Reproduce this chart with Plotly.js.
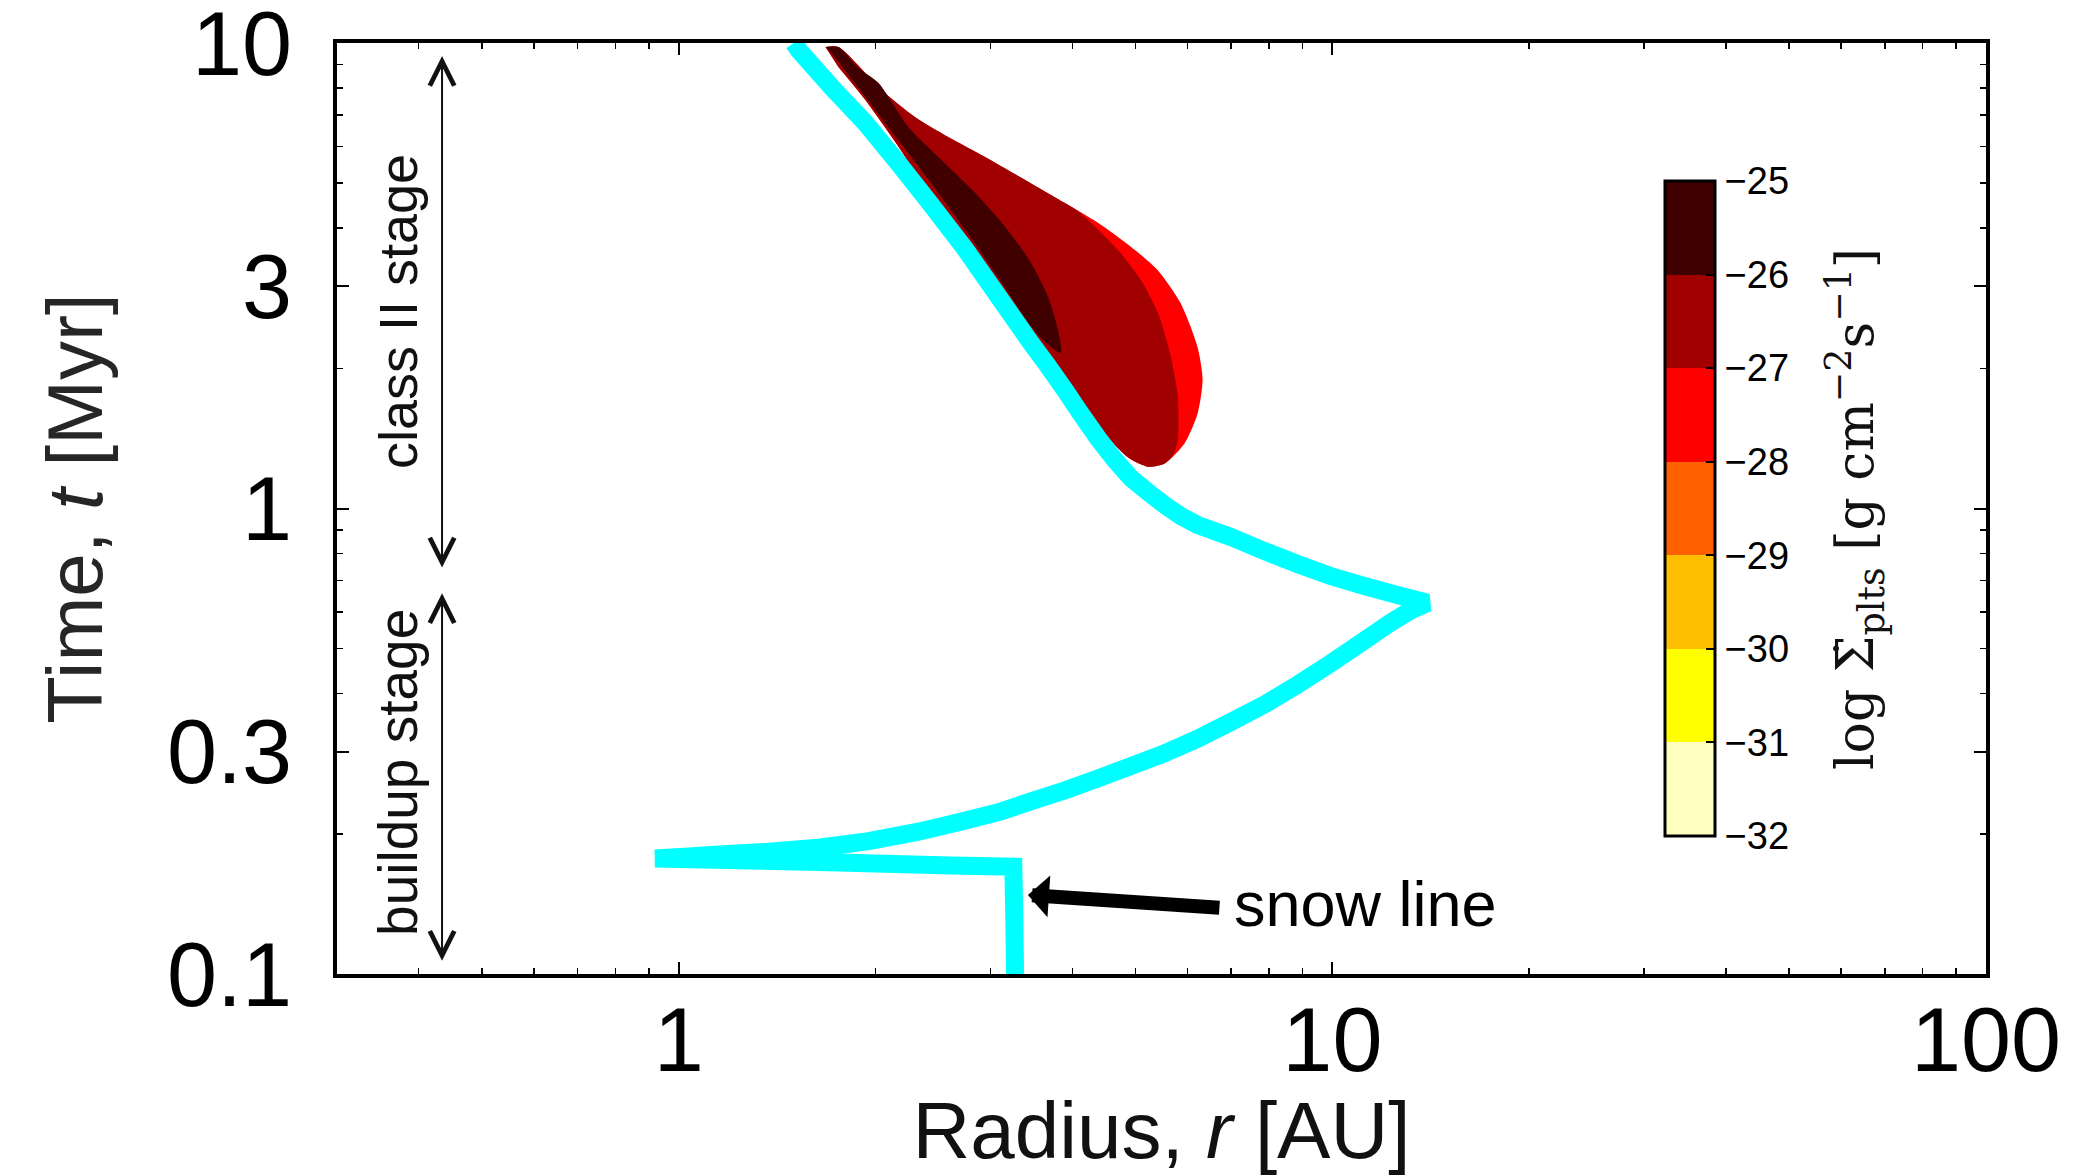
<!DOCTYPE html>
<html><head><meta charset="utf-8">
<script src="https://cdn.plot.ly/plotly-3.0.1.min.js"></script>
<style>html,body{margin:0;padding:0;background:#fff}#chart{width:2100px;height:1175px}</style>
</head><body><div id="chart"></div>
<script>
// Snow line (radius in AU, time in Myr), traced from the bottom upwards
const snowR = [3.27, 3.26, 3.25, 2.61, 1.64, 0.920,
               1.035, 1.153, 1.373, 1.634, 1.953, 2.326, 2.679, 3.085, 3.470, 3.903, 4.391, 4.916, 5.506, 6.194, 6.998, 7.875, 8.859, 9.96, 11.21, 12.26, 13.15, 13.98,
               12.57, 11.19, 9.93, 8.84, 7.875, 6.99, 6.22, 5.86, 5.54, 5.22, 4.916, 4.648, 4.377, 4.124, 3.898, 3.672, 3.459,
               3.08, 2.743, 2.434, 2.167, 1.93, 1.713, 1.525, 1.50];
const snowT = [0.100, 0.135, 0.170, 0.171, 0.174, 0.1771,
               0.1788, 0.1806, 0.1830, 0.1867, 0.1930, 0.2022, 0.2118, 0.2226, 0.2354, 0.2482, 0.2635, 0.2797, 0.2970, 0.3193, 0.3480, 0.3793, 0.4190, 0.4658, 0.5213, 0.5682, 0.6031, 0.6275,
               0.652, 0.6815, 0.716, 0.760, 0.810, 0.8687, 0.9216, 0.9636, 1.017, 1.085, 1.163, 1.271, 1.417, 1.596, 1.797, 2.024, 2.267,
               2.861, 3.61, 4.49, 5.52, 6.73, 8.04, 9.66, 10.0];

// Planetesimal formation rate regions (outline of each filled level)
// level -28..-27 (outer envelope)
const rimR = [1.677, 1.755, 2.041, 2.301, 2.584, 2.942, 3.387, 3.898, 4.377, 4.916, 5.405, 5.86, 6.22, 6.33, 6.22, 5.94, 5.54, 5.22,
              4.86, 4.38, 3.90, 3.46, 3.08, 2.74, 2.43, 2.17, 1.93, 1.755];
const rimT = [9.80, 9.80, 7.93, 6.93, 6.28, 5.69, 5.08, 4.53, 4.11, 3.65, 3.25, 2.76, 2.22, 1.89, 1.60, 1.38, 1.25, 1.23,
              1.29, 1.50, 1.82, 2.22, 2.81, 3.59, 4.67, 5.98, 7.54, 8.88];
// level -27..-26
const midR = [1.677, 1.755, 2.041, 2.301, 2.584, 2.942, 3.387, 3.898, 4.12, 4.70, 5.09, 5.41, 5.66, 5.80, 5.80, 5.70, 5.54, 5.22,
              4.86, 4.38, 3.90, 3.46, 3.08, 2.74, 2.43, 2.17, 1.93, 1.755];
const midT = [9.80, 9.80, 7.93, 6.93, 6.28, 5.69, 5.08, 4.53, 4.31, 3.59, 3.10, 2.63, 2.12, 1.74, 1.40, 1.30, 1.25, 1.23,
              1.29, 1.50, 1.82, 2.22, 2.81, 3.59, 4.67, 5.98, 7.54, 8.88];
// level -26..-25 (core)
const coreR = [1.677, 1.755, 1.883, 2.02, 2.245, 2.521, 2.841, 3.157, 3.459, 3.672, 3.803, 3.843, 3.545, 3.08, 2.743, 2.434, 2.167, 1.93, 1.713];
const coreT = [9.80, 9.80, 8.84, 8.21, 6.60, 5.61, 4.76, 4.03, 3.37, 2.85, 2.42, 2.16, 2.36, 3.14, 3.97, 5.00, 6.19, 7.66, 9.52];

// Colour levels (log Sigma-dot)
const levelTicks = [-32, -31, -30, -29, -28, -27, -26, -25];
const levelColors = ['#FFFFBF', '#FFFF00', '#FFBF00', '#FF6000', '#FF0000', '#A00000', '#400000'];

// Axis ticks
const xTickVals = [1, 10, 100];
const xTickText = ['1', '10', '100'];
const xMinorVals = [0.4, 0.5, 0.6, 0.7, 0.8, 0.9, 2, 3, 4, 5, 6, 7, 8, 9, 20, 30, 40, 50, 60, 70, 80, 90];
const yTickVals = [0.1, 0.3, 1, 3, 10];
const yTickText = ['0.1', '0.3', '1', '3', '10'];
const yMinorVals = [0.2, 0.4, 0.5, 0.6, 0.7, 0.8, 0.9, 2, 4, 5, 6, 7, 8, 9];

const n = levelColors.length;
const colorscale = [];
levelColors.forEach((c, i) => { colorscale.push([i / n, c]); colorscale.push([(i + 1) / n, c]); });

const fillTrace = (r, t, color) => ({
  type: 'scatter', mode: 'lines', x: r, y: t, fill: 'toself', fillcolor: color,
  line: {width: 0, color: color, shape: 'spline', smoothing: 0.7, simplify: false}, hoverinfo: 'skip', showlegend: false
});

const traces = [
  fillTrace(rimR, rimT, levelColors[4]),
  fillTrace(midR, midT, levelColors[5]),
  fillTrace(coreR, coreT, levelColors[6]),
  {
    type: 'scatter', mode: 'lines', x: snowR, y: snowT,
    line: {color: '#00FFFF', width: 18, simplify: false}, hoverinfo: 'skip', showlegend: false
  },
  {
    type: 'scatter', mode: 'markers', x: snowR.slice(0, levelTicks.length), y: snowT.slice(0, levelTicks.length),
    hoverinfo: 'skip', showlegend: false,
    marker: {
      size: 1, opacity: 0, color: levelTicks, cmin: levelTicks[0], cmax: levelTicks[levelTicks.length - 1],
      colorscale: colorscale, showscale: true,
      colorbar: {
        x: 0.8053, xanchor: 'left', xpad: 0, y: 0.5, yanchor: 'middle', ypad: 0,
        len: 0.7035, lenmode: 'fraction', thickness: 50, thicknessmode: 'pixels',
        outlinewidth: 3, outlinecolor: '#000', borderwidth: 0,
        tickmode: 'array', tickvals: levelTicks, ticks: 'inside', ticklen: 10, tickwidth: 2, tickcolor: '#000',
        tickfont: {size: 38, color: '#000', family: 'Liberation Sans, Arial, sans-serif'}
      }
    }
  }
];

const axisCommon = {
  type: 'log', ticks: 'inside', ticklen: 12, tickwidth: 2, tickcolor: '#000',
  showline: true, linecolor: '#000', linewidth: 4, mirror: 'ticks',
  showgrid: false, zeroline: false, tickmode: 'array', ticklabeloverflow: 'allow',
  tickfont: {size: 90, color: '#000', family: 'Liberation Sans, Arial, sans-serif'}
};

const layout = {
  width: 2100, height: 1175,
  margin: {l: 337, r: 114, t: 43, b: 201, pad: 0},
  paper_bgcolor: '#fff', plot_bgcolor: '#fff', showlegend: false,
  font: {family: 'Liberation Sans, Arial, sans-serif', color: '#000'},
  xaxis: Object.assign({}, axisCommon, {
    range: [Math.log10(0.3), 2], tickvals: xTickVals, ticktext: xTickText, ticklabelstandoff: -15,
    minor: {tickmode: 'array', tickvals: xMinorVals, ticks: 'inside', ticklen: 6, tickwidth: 1.5, tickcolor: '#000', showgrid: false},
    title: {text: 'Radius, <i>r</i> [AU]', font: {size: 80, color: '#111'}, standoff: 53}
  }),
  yaxis: Object.assign({}, axisCommon, {
    range: [-1, 1], tickvals: yTickVals, ticktext: yTickText, ticklabelstandoff: 23,
    minor: {tickmode: 'array', tickvals: yMinorVals, ticks: 'inside', ticklen: 6, tickwidth: 1.5, tickcolor: '#000', showgrid: false},
    title: {text: 'Time, <i>t</i> [Myr]', font: {size: 78, color: '#262626'}, standoff: 40}
  }),
  annotations: [
    {xref: 'paper', yref: 'paper', x: 0.037, y: 0.711, xanchor: 'center', yanchor: 'middle', text: 'class II stage', textangle: -90, showarrow: false,
     font: {size: 54, color: '#111'}},
    {xref: 'paper', yref: 'paper', x: 0.037, y: 0.216, xanchor: 'center', yanchor: 'middle', text: 'buildup stage', textangle: -90, showarrow: false,
     font: {size: 55, color: '#111'}},
    {xref: 'paper', yref: 'paper', x: 0.0637, y: 0.986, text: '', showarrow: true, ax: 0, ay: 513,
     arrowhead: 5, startarrowhead: 5, arrowside: 'end+start', arrowwidth: 2, arrowsize: 2.4, startarrowsize: 2.4, arrowcolor: '#111'},
    {xref: 'paper', yref: 'paper', x: 0.0637, y: 0.409, text: '', showarrow: true, ax: 0, ay: 369,
     arrowhead: 5, startarrowhead: 5, arrowside: 'end+start', arrowwidth: 2, arrowsize: 2.4, startarrowsize: 2.4, arrowcolor: '#111'},
    {xref: 'paper', yref: 'paper', x: 0.419, y: 0.0849, text: '', showarrow: true, ax: 193, ay: 13,
     arrowhead: 1, arrowwidth: 14, arrowsize: 0.5, arrowcolor: '#000'},
    {xref: 'paper', yref: 'paper', x: 0.5427, y: 0.0752, xanchor: 'left', yanchor: 'middle', text: 'snow line', showarrow: false,
     font: {size: 63, color: '#000'}},
    {xref: 'paper', yref: 'paper', x: 0.9206, y: 0.4995, xanchor: 'center', yanchor: 'middle', textangle: -90, showarrow: false,
     text: 'log \u03A3\u0307<sub>plts</sub> [g cm<sup>\u22122</sup>s<sup>\u22121</sup>]',
     font: {size: 52, color: '#111', family: 'DejaVu Serif, Liberation Serif, serif'}}
  ]
};

Plotly.newPlot('chart', traces, layout, {staticPlot: true, displayModeBar: false});
</script>
</body></html>
